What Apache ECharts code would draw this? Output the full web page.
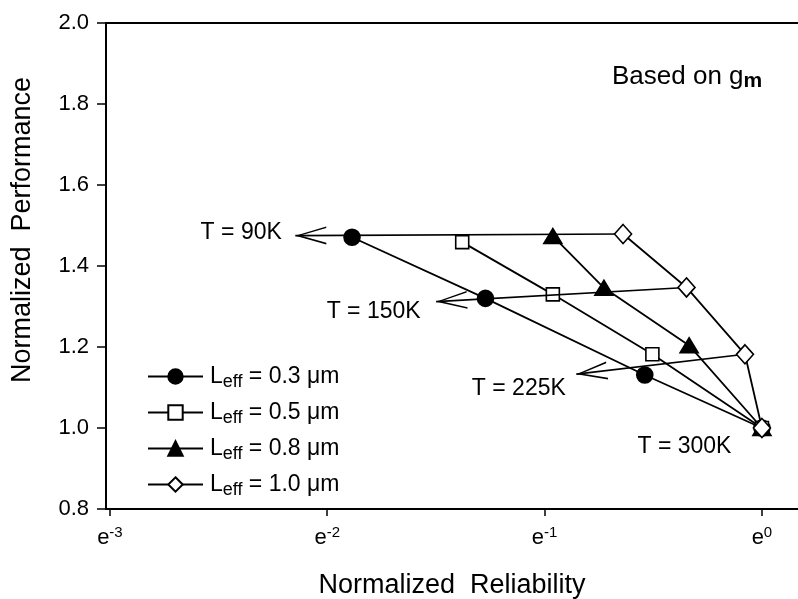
<!DOCTYPE html>
<html>
<head>
<meta charset="utf-8">
<script src="https://cdn.jsdelivr.net/npm/echarts@6/dist/echarts.min.js"></script>
<style>
  html, body { margin: 0; padding: 0; background: #fff; }
  #chart { width: 798px; height: 599px; }
</style>
</head>
<body>
<div id="chart"></div>
<script>
// Temperatures along each curve (left to right): 90K, 150K, 225K, 300K
const tempLabels = ['T = 90K', 'T = 150K', 'T = 225K', 'T = 300K'];
const leffValues = ['0.3', '0.5', '0.8', '1.0'];

// x: natural log of normalized reliability, y: normalized performance
const relLn03 = [-1.886, -1.272, -0.539, 0];
const perf03  = [1.471, 1.320, 1.131, 1.0];
const relLn05 = [-1.379, -0.962, -0.504, 0];
const perf05  = [1.459, 1.330, 1.182, 1.0];
const relLn08 = [-0.962, -0.727, -0.335, 0];
const perf08  = [1.474, 1.346, 1.204, 1.0];
const relLn10 = [-0.639, -0.347, -0.078, 0];
const perf10  = [1.479, 1.347, 1.182, 1.0];

// Constant-temperature guide arrows: start at the 1.0 um point, end at these tips
const arrowTipLn   = [-2.147, -1.499, -0.854];
const arrowTipPerf = [1.475, 1.312, 1.133];

// Axis ticks (x ticks are exponents of e)
const xTickExps = [-3, -2, -1, 0];

const FONT = '"Liberation Sans", Arial, Helvetica, sans-serif';
const pair = (xs, ys) => xs.map((x, i) => [x, ys[i]]);

const chevron = 'path://M9 0 L18 31 L16.4 31 L9 5.2 L1.6 31 L0 31 Z';

const arrowLines = arrowTipLn.map((x, i) => [
  { coord: [relLn10[i], perf10[i]], symbol: 'none' },
  { coord: [x, arrowTipPerf[i]], symbol: chevron, symbolSize: [18, 31], symbolOffset: [0, 15.5] }
]);

// Label anchors: arrow tips for 90K/150K/225K and the common 300K point
const noteAnchors = arrowTipLn.map((x, i) => [x, arrowTipPerf[i]]).concat([[relLn10[3], perf10[3]]]);
const noteOffsets = [[0, -3], [0, 10], [0, 15], [0, 19]];
const noteDistances = [13, 15, 10, 30];

const lineStyle = { color: '#000', width: 1.8 };

const legendRich = {
  l: { fontSize: 23, color: '#000', fontFamily: FONT },
  s: { fontSize: 18, color: '#000', fontFamily: FONT, padding: [11, 0, 0, 0] },
  n: { fontSize: 23, color: '#000', fontFamily: FONT }
};

const seriesDefs = [
  { xs: relLn03, ys: perf03, symbol: 'circle', size: 16, fill: '#000' },
  { xs: relLn05, ys: perf05, symbol: 'rect', size: 13, fill: '#fff' },
  { xs: relLn08, ys: perf08, symbol: 'triangle', size: [18, 15], fill: '#000' },
  { xs: relLn10, ys: perf10, symbol: 'diamond', size: [17, 19], fill: '#fff' }
];

const names = leffValues.map(v => 'Leff = ' + v + ' μm');

const series = seriesDefs.map((d, i) => ({
  name: names[i],
  type: 'line',
  data: pair(d.xs, d.ys),
  symbol: d.symbol,
  symbolSize: d.size,
  showSymbol: true,
  lineStyle: lineStyle,
  itemStyle: { color: d.fill, borderColor: '#000', borderWidth: 1.6 },
  z: 3 + i,
  emphasis: { disabled: true }
}));

// Guide arrows drawn beneath the markers
series.unshift({
  name: 'guides',
  type: 'line',
  data: [],
  z: 1,
  markLine: {
    silent: true,
    animation: false,
    symbol: ['none', chevron],
    lineStyle: { color: '#000', width: 1.6, type: 'solid' },
    label: { show: false },
    emphasis: { disabled: true },
    data: arrowLines
  }
});

series.push({
  name: 'notes',
  type: 'scatter',
  silent: true,
  symbolSize: 1,
  itemStyle: { color: '#fff', opacity: 1 },
  z: 0,
  emphasis: { disabled: true },
  data: noteAnchors.map((p, i) => ({
    value: p,
    label: {
      show: true,
      position: 'left',
      distance: noteDistances[i],
      offset: noteOffsets[i],
      formatter: tempLabels[i],
      color: '#000',
      opacity: 1,
      fontSize: 23,
      fontFamily: FONT
    }
  }))
});

const chart = echarts.init(document.getElementById('chart'), null, { renderer: 'canvas' });
chart.setOption({
  animation: false,
  backgroundColor: '#fff',
  title: {
    text: '{a|Based on g}{b|m}',
    left: 607,
    top: 56,
    textStyle: {
      fontWeight: 'normal',
      rich: {
        a: { fontSize: 26, color: '#000', fontFamily: FONT, fontWeight: 'normal' },
        b: { fontSize: 21, color: '#000', fontFamily: FONT, fontWeight: 'bold', padding: [10, 0, 0, 0] }
      }
    }
  },
  grid: { left: 106, right: 0, top: 23, bottom: 90, containLabel: false, outerBoundsMode: 'none' },
  legend: {
    data: names,
    orient: 'vertical',
    left: 142,
    top: 360,
    itemWidth: 55,
    itemHeight: 18,
    itemGap: 10,
    selectedMode: false,
    formatter: n => '{l|L}{s|eff}{n|' + n.slice(4) + '}',
    textStyle: { rich: legendRich, padding: [0, 0, 0, 2] }
  },
  xAxis: [{
    type: 'value',
    min: -3.018,
    max: 0.166,
    name: 'Normalized  Reliability',
    nameLocation: 'middle',
    nameGap: 63,
    nameTextStyle: { fontSize: 27, color: '#000', fontFamily: FONT },
    axisLine: { show: true, onZero: false, lineStyle: { color: '#000', width: 2 } },
    axisTick: { show: true, length: 7, customValues: xTickExps, lineStyle: { color: '#000', width: 1.5 } },
    axisLabel: {
      customValues: xTickExps,
      margin: 16,
      formatter: v => '{e|e}{p|' + Math.round(v) + '}',
      rich: {
        e: { fontSize: 22, color: '#000', fontFamily: FONT },
        p: { fontSize: 15, color: '#000', fontFamily: FONT, padding: [0, 0, 11, 0] }
      }
    },
    splitLine: { show: false }
  }, {
    type: 'value',
    position: 'top',
    min: -3.018,
    max: 0.166,
    axisLine: { show: true, onZero: false, lineStyle: { color: '#000', width: 2 } },
    axisTick: { show: false },
    axisLabel: { show: false },
    splitLine: { show: false }
  }],
  yAxis: {
    type: 'value',
    min: 0.8,
    max: 2.0,
    interval: 0.2,
    name: 'Normalized  Performance',
    nameLocation: 'middle',
    nameGap: 70,
    nameTextStyle: { fontSize: 27, color: '#000', fontFamily: FONT, padding: [0, 0, 0, 72] },
    axisLine: { show: true, onZero: false, lineStyle: { color: '#000', width: 2 } },
    axisTick: { show: true, length: 9, lineStyle: { color: '#000', width: 1.5 } },
    axisLabel: {
      margin: 17,
      fontSize: 22,
      color: '#000',
      fontFamily: FONT,
      formatter: v => v.toFixed(1)
    },
    splitLine: { show: false }
  },
  series: series
});
</script>
</body>
</html>
